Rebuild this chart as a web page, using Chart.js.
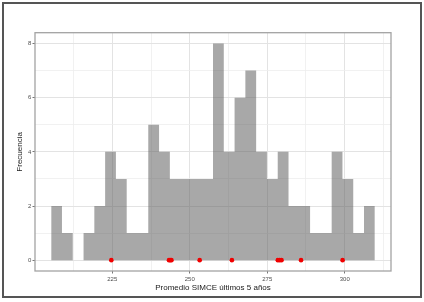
<!DOCTYPE html>
<html><head><meta charset="utf-8">
<script src="https://cdn.jsdelivr.net/npm/chart.js@4/dist/chart.umd.min.js"></script>
<style>html,body{margin:0;padding:0;background:#fff;}canvas{display:block;}</style>
</head><body>
<canvas id="c" width="424" height="302"></canvas>
<script>
// Histogram bin edges (31) and counts (30)
const binEdges = [205.30,208.78,212.26,215.74,219.22,222.70,226.18,229.66,233.14,236.62,
  240.10,243.58,247.06,250.54,254.02,257.50,260.98,264.46,267.94,271.42,
  274.90,278.38,281.86,285.34,288.82,292.30,295.78,299.26,302.74,306.22,309.70];
const binCounts = [2,1,0,1,2,4,3,1,1,5,4,3,3,3,3,8,4,6,7,4,3,4,2,2,1,1,4,3,1,2];
// Highlighted observations (red points on the baseline)
const highlighted = [224.7,243.3,243.7,244.1,253.2,263.6,278.4,279.0,279.6,285.9,299.3];
// Axis ticks
const xTicks = [212.5,225,237.5,250,262.5,275,287.5,300,312.5];
const xLabelTicks = [225,250,275,300];
const yTicks = [0,1,2,3,4,5,6,7,8];
const yLabelTicks = [0,2,4,6,8];
const xTitle = 'Promedio SIMCE últimos 5 años';
const yTitle = 'Frecuencia';

const histPoints = [{x: binEdges[0], y: 0}];
binCounts.forEach((c, i) => histPoints.push({x: binEdges[i], y: c}));
histPoints.push({x: binEdges[binEdges.length - 1], y: binCounts[binCounts.length - 1]});
histPoints.push({x: binEdges[binEdges.length - 1], y: 0});

const FONT = '"Liberation Sans", Arial, Helvetica, sans-serif';
const MAJOR = '#e3e3e3', MINOR = '#eeeeee';

const framePlugin = {
  id: 'frame',
  afterDatasetsDraw(chart) {
    const {ctx, chartArea: a} = chart;
    ctx.save();
    ctx.strokeStyle = '#a3a3a3';
    ctx.lineWidth = 1.3;
    ctx.strokeRect(a.left, a.top, a.right - a.left, a.bottom - a.top);
    ctx.restore();
  },
  afterDraw(chart) {
    const ctx = chart.ctx;
    ctx.save();
    ctx.strokeStyle = '#555';
    ctx.lineWidth = 2;
    ctx.strokeRect(3, 3, 418, 294);
    ctx.restore();
  }
};

const xMin = 200.08, xMax = 314.92;

new Chart(document.getElementById('c'), {
  type: 'scatter',
  data: {
    datasets: [
      {
        type: 'line',
        data: histPoints,
        stepped: true,
        fill: 'origin',
        backgroundColor: 'rgba(89,89,89,0.52)',
        borderWidth: 0,
        borderColor: 'rgba(0,0,0,0)',
        pointRadius: 0,
        order: 2
      },
      {
        type: 'scatter',
        data: highlighted.map(v => ({x: v, y: 0})),
        backgroundColor: 'rgb(240,0,0)',
        borderWidth: 0,
        pointRadius: 2.3,
        order: 1
      }
    ]
  },
  options: {
    responsive: false,
    animation: false,
    events: [],
    layout: {padding: {left: 15, right: 33, top: 32.7, bottom: 9.7}},
    plugins: {legend: {display: false}, tooltip: {enabled: false}},
    scales: {
      x: {
        type: 'linear',
        min: xMin, max: xMax,
        afterBuildTicks: s => { s.ticks = xTicks.map(v => ({value: v})); },
        afterFit: s => { s.height = 21.3; },
        border: {display: false},
        grid: {
          color: c => (c.tick && xLabelTicks.includes(c.tick.value)) ? MAJOR : MINOR,
          lineWidth: c => (c.tick && xLabelTicks.includes(c.tick.value)) ? 1 : 0.8,
          tickColor: c => (c.tick && xLabelTicks.includes(c.tick.value)) ? '#777' : 'rgba(0,0,0,0)',
          tickLength: 2.5,
          drawTicks: true
        },
        ticks: {
          autoSkip: false, maxRotation: 0, padding: 2.5,
          color: '#4d4d4d',
          font: {family: FONT, size: 6},
          callback: v => xLabelTicks.includes(v) ? String(v) : ''
        },
        title: {display: true, text: xTitle, color: '#1a1a1a', padding: 0,
          font: {family: FONT, size: 8}}
      },
      y: {
        type: 'linear',
        min: -0.4, max: 8.4,
        afterBuildTicks: s => { s.ticks = yTicks.map(v => ({value: v})); },
        afterFit: s => { s.width = 20; },
        border: {display: false},
        grid: {
          color: c => (c.tick && yLabelTicks.includes(c.tick.value)) ? MAJOR : MINOR,
          lineWidth: c => (c.tick && yLabelTicks.includes(c.tick.value)) ? 1 : 0.8,
          tickColor: c => (c.tick && yLabelTicks.includes(c.tick.value)) ? '#777' : 'rgba(0,0,0,0)',
          tickLength: 2.5,
          drawTicks: true
        },
        ticks: {
          autoSkip: false, padding: 1.2,
          color: '#4d4d4d',
          font: {family: FONT, size: 6},
          callback: v => yLabelTicks.includes(v) ? String(v) : ''
        },
        title: {display: true, text: yTitle, color: '#1a1a1a', padding: 0,
          font: {family: FONT, size: 8}}
      }
    }
  },
  plugins: [framePlugin]
});
</script>
</body></html>
